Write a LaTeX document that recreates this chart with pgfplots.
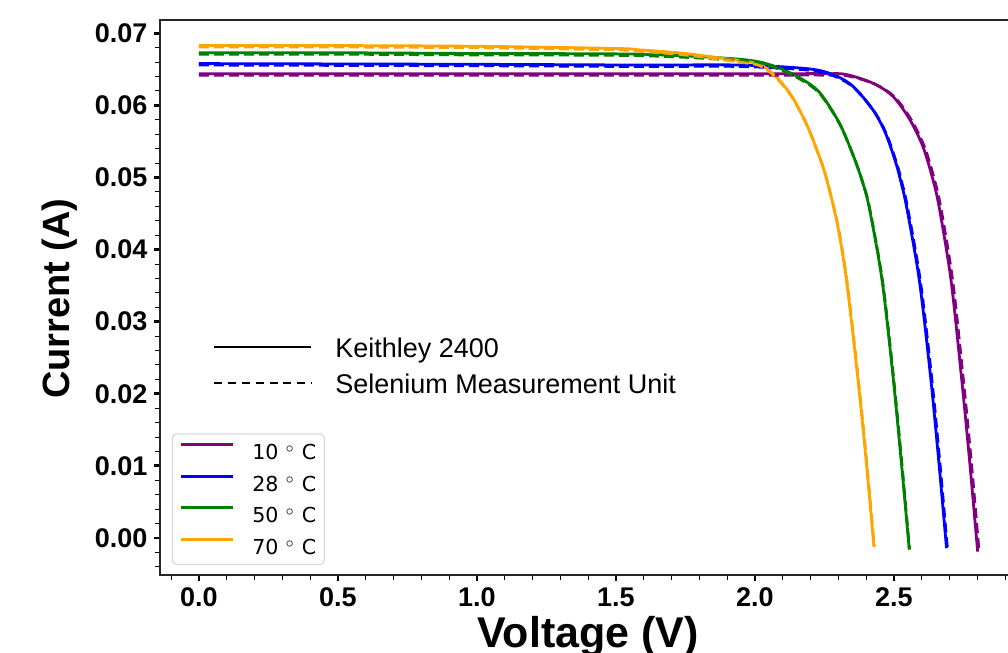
\documentclass[border=0pt]{standalone}
\usepackage{fontspec}
\setmainfont{Liberation Sans}
\newfontfamily\djv{DejaVu Sans}
\usepackage{pgfplots}
\pgfplotsset{compat=1.18}
\definecolor{c10}{RGB}{128,0,128}
\definecolor{c28}{RGB}{0,0,255}
\definecolor{c50}{RGB}{0,128,0}
\definecolor{c70}{RGB}{255,165,0}

\begin{document}
\begin{tikzpicture}
\useasboundingbox (-80pt,-39pt) rectangle (424pt,287.5pt);
\clip (-80pt,-39pt) rectangle (424pt,287.5pt);
\begin{axis}[
    scale only axis,
    width=436.5pt, height=277.5pt,
    xmin=-0.14, xmax=3.0,
    ymin=-0.00514, ymax=0.07185,
    axis line style={line width=0.7pt, black!85},
    tick align=outside, tick pos=left,
    xtick={0,0.5,1.0,1.5,2.0,2.5},
    ytick={0,0.01,0.02,0.03,0.04,0.05,0.06,0.07},
    minor xtick={-0.1,0,...,2.95},
    minor ytick={-0.004,-0.002,...,0.071},
    major tick length=2.8pt, minor tick length=2.5pt,
    every major tick/.append style={line width=1.4pt, black},
    every minor tick/.append style={line width=0.5pt, black},
    scaled y ticks=false,
    /pgf/number format/assume math mode=true,
    tick label style={font=\bfseries\fontsize{13.5}{15}\selectfont},
    xticklabel style={/pgf/number format/.cd, fixed, fixed zerofill, precision=1},
    yticklabel style={/pgf/number format/.cd, fixed, fixed zerofill, precision=2},
    xlabel={Voltage (V)},
    ylabel={Current (A)},
    every axis x label/.style={at={(axis description cs:0.4903,-0.1315)}, anchor=base, font=\bfseries\fontsize{21.5}{24}\selectfont},
    every axis y label/.style={at={(axis description cs:-0.1031,0.498)}, anchor=base, rotate=90, font=\bfseries\fontsize{19}{22}\selectfont},
    legend cell align=left,
    legend image code/.code={\draw[#1] (0pt,3.7pt) -- (25.8pt,3.7pt);},
    legend style={at={(axis description cs:0.0137,0.018)}, anchor=south west,
        draw=black!15, line width=0.6pt, rounded corners=2pt, fill=white,
        font=\djv\fontsize{10.3}{12}\selectfont,
        inner xsep=3.5pt, inner ysep=4.5pt, row sep=7.2pt,
        nodes={inner sep=0.5pt, text height=7.5pt, text depth=0pt},
        /tikz/every odd column/.append style={column sep=8.7pt}},
    every axis plot/.append style={line width=1.4pt, line join=round},
]
% Keithley 2400 (solid)
\addplot[c10, smooth, tension=0.5] coordinates {
 (0,0.0644) (1.0,0.0644) (2.0,0.0644) (2.25,0.0644) (2.327,0.0643) (2.423,0.0631)
 (2.495,0.0613) (2.556,0.0581) (2.604,0.0543) (2.638,0.0500) (2.662,0.0460)
 (2.705,0.0358) (2.742,0.0226) (2.771,0.0111) (2.801,-0.0019)};
\addlegendentry{10\hspace{3.5pt}$^\circ$\hspace{3.5pt}C}
\addplot[c28, smooth, tension=0.5] coordinates {
 (0,0.0658) (1.0,0.0657) (1.586,0.0656) (1.946,0.0656) (2.187,0.0651) (2.279,0.0643)
 (2.351,0.0627) (2.424,0.0594) (2.469,0.0562) (2.507,0.0520) (2.523,0.0497)
 (2.545,0.0460) (2.591,0.0358) (2.631,0.0226) (2.660,0.0111) (2.689,-0.0014)};
\addlegendentry{28\hspace{3.5pt}$^\circ$\hspace{3.5pt}C}
\addplot[c50, smooth, tension=0.5] coordinates {
 (0,0.0673) (0.5,0.0673) (1.0,0.0672) (1.586,0.0671) (1.946,0.0664) (2.065,0.0655)
 (2.162,0.0638) (2.232,0.0618) (2.303,0.0576) (2.354,0.0530) (2.384,0.0497)
 (2.410,0.0460) (2.457,0.0358) (2.496,0.0226) (2.525,0.0111) (2.555,-0.0016)};
\addlegendentry{50\hspace{3.5pt}$^\circ$\hspace{3.5pt}C}
\addplot[c70, smooth, tension=0.5] coordinates {
 (0,0.0683) (0.5,0.0683) (1.0,0.0682) (1.5,0.0679) (1.586,0.0677) (1.75,0.0672)
 (1.946,0.0662) (2.017,0.0657) (2.073,0.0641) (2.132,0.0613) (2.189,0.0571)
 (2.239,0.0521) (2.258,0.0497) (2.279,0.0465) (2.300,0.0428) (2.329,0.0358)
 (2.369,0.0225) (2.399,0.0111) (2.428,-0.0012)};
\addlegendentry{70\hspace{3.5pt}$^\circ$\hspace{3.5pt}C}
% Selenium Measurement Unit (dashed)
\addplot[c10, dash pattern=on 5pt off 2.5pt, smooth, tension=0.5, forget plot] coordinates {
 (0,0.0642) (1.0,0.0642) (2.0,0.0642) (2.25,0.0642) (2.333,0.0641) (2.429,0.0630)
 (2.501,0.0612) (2.562,0.0580) (2.610,0.0542) (2.644,0.0499) (2.668,0.0459)
 (2.711,0.0357) (2.748,0.0225) (2.777,0.0110) (2.806,-0.0019)};
\addplot[c28, dash pattern=on 5pt off 2.5pt, smooth, tension=0.5, forget plot] coordinates {
 (0,0.0656) (1.0,0.0655) (1.586,0.0654) (1.946,0.0654) (2.191,0.0649) (2.283,0.0641)
 (2.355,0.0625) (2.428,0.0592) (2.473,0.0560) (2.511,0.0518) (2.527,0.0495)
 (2.549,0.0458) (2.595,0.0356) (2.635,0.0224) (2.664,0.0109) (2.692,-0.0014)};
\addplot[c50, dash pattern=on 5pt off 2.5pt, smooth, tension=0.5, forget plot] coordinates {
 (0,0.0671) (0.5,0.0671) (1.0,0.0670) (1.586,0.0669) (1.946,0.0662) (2.067,0.0653)
 (2.164,0.0636) (2.234,0.0616) (2.305,0.0574) (2.356,0.0528) (2.386,0.0495)
 (2.412,0.0458) (2.459,0.0356) (2.498,0.0224) (2.527,0.0109) (2.556,-0.0016)};
\addplot[c70, dash pattern=on 5pt off 2.5pt, smooth, tension=0.5, forget plot] coordinates {
 (0,0.0681) (0.5,0.0681) (1.0,0.0680) (1.5,0.0677) (1.586,0.0675) (1.75,0.0670)
 (1.946,0.0660) (2.019,0.0655) (2.075,0.0639) (2.134,0.0611) (2.191,0.0569)
 (2.241,0.0519) (2.260,0.0495) (2.281,0.0463) (2.302,0.0426) (2.331,0.0356)
 (2.371,0.0223) (2.401,0.0109) (2.429,-0.0012)};
\end{axis}
% second legend: measurement instrument
\begin{axis}[
    scale only axis, hide axis,
    width=436.5pt, height=277.5pt,
    xmin=-0.14, xmax=3.0,
    ymin=-0.00514, ymax=0.07185,
    legend cell align=left,
    legend image code/.code={\draw[#1] (0pt,2pt) -- (48.5pt,2pt);},
    legend style={at={(axis description cs:0.0607,0.428)}, anchor=north west,
        draw=none, fill=none, inner sep=0pt, row sep=5.3pt,
        font=\fontsize{13.5}{16}\selectfont,
        nodes={inner sep=0pt, text height=9.8pt, text depth=2.9pt},
        /tikz/every odd column/.append style={column sep=11.5pt}},
]
\addlegendimage{black, line width=1pt}
\addlegendentry{Keithley 2400}
\addlegendimage{black, line width=1pt, dash pattern=on 4pt off 2.9pt}
\addlegendentry{Selenium Measurement Unit}
\end{axis}
\end{tikzpicture}
\end{document}
